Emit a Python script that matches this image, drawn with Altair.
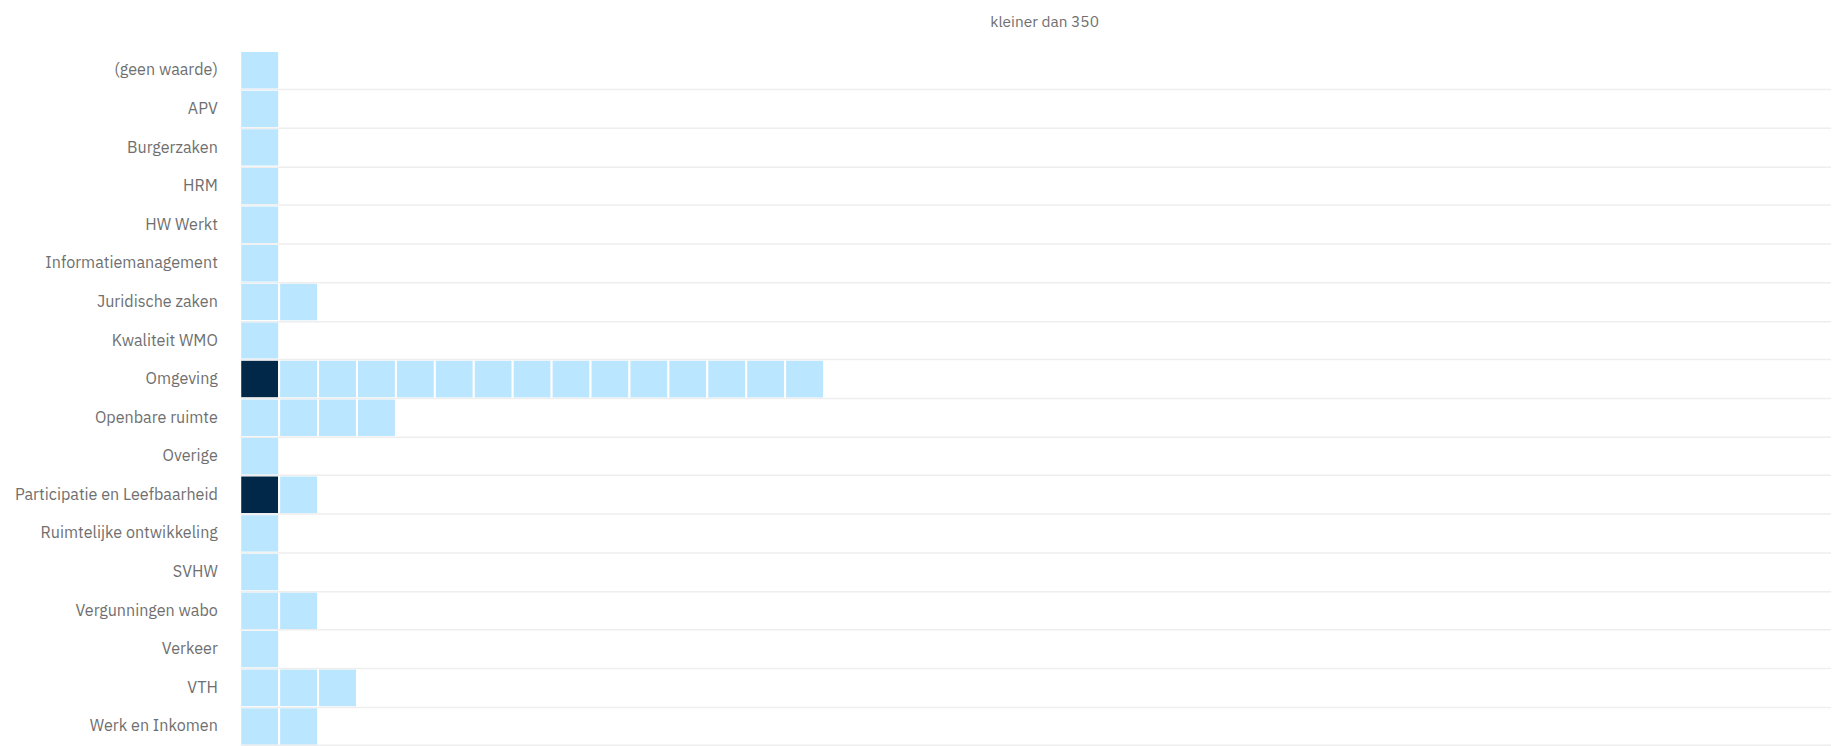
import altair as alt
import pandas as pd

# Categories (rows), number of cells per row, and how many of those are dark
categories = [
    "(geen waarde)", "APV", "Burgerzaken", "HRM", "HW Werkt",
    "Informatiemanagement", "Juridische zaken", "Kwaliteit WMO", "Omgeving",
    "Openbare ruimte", "Overige", "Participatie en Leefbaarheid",
    "Ruimtelijke ontwikkeling", "SVHW", "Vergunningen wabo", "Verkeer",
    "VTH", "Werk en Inkomen",
]
cell_counts = [1, 1, 1, 1, 1, 1, 2, 1, 15, 4, 1, 2, 1, 1, 2, 1, 3, 2]
dark_counts = [0, 0, 0, 0, 0, 0, 0, 0, 1, 0, 0, 1, 0, 0, 0, 0, 0, 0]
status_labels = ["hoog", "laag"]
status_colors = ["#012749", "#bae6ff"]
title_text = "kleiner dan 350"

rows = []
for cat, n, d in zip(categories, cell_counts, dark_counts):
    for i in range(n):
        rows.append({
            "categorie": cat,
            "start": i,
            "end": i + 1,
            "status": status_labels[0] if i < d else status_labels[1],
        })
df = pd.DataFrame(rows)

FONT = "IBM Plex Sans, Open Sans, Noto Sans, sans-serif"

chart = (
    alt.Chart(df)
    .mark_rect(stroke="white", strokeWidth=2)
    .encode(
        x=alt.X("start:Q", scale=alt.Scale(domain=[0, 40.87], nice=False, zero=False),
                axis=None),
        x2="end:Q",
        y=alt.Y(
            "categorie:N",
            sort=categories,
            scale=alt.Scale(paddingInner=0, paddingOuter=0),
            axis=alt.Axis(
                title=None,
                domain=False,
                ticks=False,
                grid=True,
                gridColor="#eeeeee",
                gridWidth=1.5,
                bandPosition=1,
                labelPadding=23,
                labelFontSize=16.2,
                labelFont=FONT,
                labelColor="#6f6f6f",
                labelLimit=400,
                minExtent=228,
                maxExtent=228,
            ),
        ),
        color=alt.Color(
            "status:N",
            scale=alt.Scale(domain=status_labels, range=status_colors),
            legend=None,
        ),
    )
    .properties(
        width=1596,
        height=697,
        padding={"left": 5, "top": 5, "right": 0, "bottom": 0},
        title=alt.TitleParams(
            text=title_text,
            anchor="middle",
            fontSize=15.5,
            fontWeight="normal",
            font=FONT,
            color="#6f6f6f",
            offset=20,
            dx=9,
        ),
    )
    .configure_view(stroke=None)
)

chart.save("out.html", embed_options={"renderer": "svg", "actions": False})
